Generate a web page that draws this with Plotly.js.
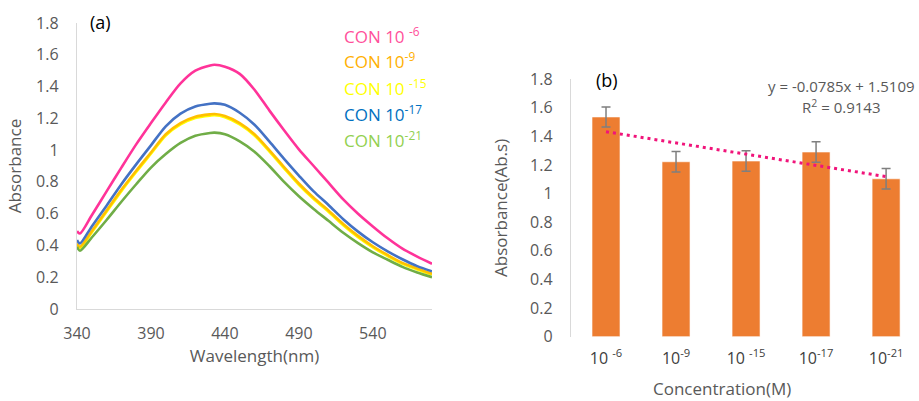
<!DOCTYPE html>
<html>
<head>
<meta charset="utf-8">
<script src="https://cdn.plot.ly/plotly-3.0.1.min.js"></script>
<style>html,body{margin:0;padding:0;background:#fff;}#chart{width:919px;height:401px;}</style>
</head>
<body>
<div id="chart"></div>
<script>
// ---- Panel (a): absorbance spectra ----
const wavelength = [340, 342, 350, 360, 370, 380, 390, 400, 410, 420, 430, 433, 440, 450, 460, 470, 480, 490, 500, 510, 520, 530, 540, 550, 560, 570, 580];
const con6  = [0.49, 0.475, 0.59, 0.74, 0.89, 1.036, 1.17, 1.30, 1.42, 1.50, 1.533, 1.537, 1.525, 1.48, 1.38, 1.25, 1.125, 1.005, 0.90, 0.795, 0.69, 0.60, 0.52, 0.445, 0.38, 0.33, 0.285];
const con9  = [0.413, 0.392, 0.49, 0.62, 0.75, 0.87, 0.985, 1.10, 1.17, 1.21, 1.225, 1.227, 1.215, 1.17, 1.10, 1.0, 0.893, 0.79, 0.70, 0.62, 0.535, 0.46, 0.395, 0.34, 0.29, 0.255, 0.222];
const con15 = [0.405, 0.385, 0.482, 0.612, 0.742, 0.862, 0.977, 1.092, 1.162, 1.202, 1.217, 1.219, 1.207, 1.162, 1.092, 0.992, 0.885, 0.782, 0.692, 0.612, 0.527, 0.452, 0.388, 0.333, 0.284, 0.249, 0.217];
const con17 = [0.434, 0.413, 0.52, 0.65, 0.785, 0.91, 1.03, 1.15, 1.23, 1.275, 1.292, 1.294, 1.285, 1.235, 1.16, 1.055, 0.945, 0.84, 0.74, 0.655, 0.565, 0.487, 0.42, 0.363, 0.313, 0.27, 0.237];
const con21 = [0.392, 0.367, 0.45, 0.56, 0.675, 0.785, 0.89, 0.975, 1.045, 1.09, 1.108, 1.11, 1.10, 1.055, 0.99, 0.90, 0.80, 0.71, 0.63, 0.555, 0.48, 0.415, 0.357, 0.31, 0.265, 0.23, 0.20];
const seriesNames = ["CON 10 <sup>-6</sup>", "CON 10<sup>-9</sup>", "CON 10 <sup>-15</sup>", "CON 10<sup>-17</sup>", "CON 10<sup>-21</sup>"];

// ---- Panel (b): bar chart ----
const concLabels = ["10 <sup>-6</sup>", "10<sup>-9</sup>", "10 <sup>-15</sup>", "10<sup>-17</sup>", "10<sup>-21</sup>"];
const barValues = [1.535, 1.222, 1.227, 1.29, 1.103];
const barErrors = [0.07, 0.072, 0.072, 0.072, 0.071];
const trendValues = [1.432, 1.354, 1.275, 1.197, 1.118];
const trendEquation = "y = -0.0785x + 1.5109";
const trendR2 = "R<sup>2</sup> = 0.9143";

const lineColors = ["#FF3399", "#FFC000", "#FFFF00", "#4472C4", "#70AD47"];
const legendColors = ["#FF4F9A", "#FFB000", "#FFFF00", "#0070C0", "#92D050"];
const seriesData = [con6, con9, con15, con17, con21];
const drawOrder = [0, 2, 1, 3, 4];

const FONT = "Open Sans, Noto Sans, sans-serif";
const GRAY = "#595959";

const traces = [];
drawOrder.forEach(i => {
  traces.push({
    type: "scatter", mode: "lines", x: wavelength, y: seriesData[i],
    name: seriesNames[i], xaxis: "x", yaxis: "y", showlegend: false,
    line: {color: lineColors[i], width: 2.6, shape: "spline", smoothing: 0.8},
    hoverinfo: "x+y"
  });
});
traces.push({
  type: "bar", x: concLabels, y: barValues, xaxis: "x2", yaxis: "y2", showlegend: false,
  width: 0.4,
  marker: {color: "#ED7D31", line: {color: "#FFFFFF", width: 0.6}},
  error_y: {type: "data", array: barErrors, visible: true, color: "#7F7F7F", thickness: 1.5, width: 4.5}
});
traces.push({
  type: "scatter", mode: "lines", x: concLabels, y: trendValues, xaxis: "x2", yaxis: "y2", showlegend: false,
  line: {color: "#F0147A", width: 3, dash: "3px,4px"}
});

const annotations = [];
const legendY = [35, 61, 87, 113, 139];
seriesNames.forEach((n, i) => {
  annotations.push({
    xref: "paper", yref: "paper", x: 342 / 919, y: 1 - legendY[i] / 401,
    xanchor: "left", yanchor: "middle", text: n, showarrow: false,
    font: {family: FONT, size: 17, color: legendColors[i]}
  });
});
annotations.push({xref: "paper", yref: "paper", x: 100 / 919, y: 1 - 22 / 401, xanchor: "center", yanchor: "middle",
  text: "(a)", showarrow: false, font: {family: FONT, size: 18, color: "#000000"}});
annotations.push({xref: "paper", yref: "paper", x: 607 / 919, y: 1 - 80 / 401, xanchor: "center", yanchor: "middle",
  text: "(b)", showarrow: false, font: {family: FONT, size: 18, color: "#000000"}});
annotations.push({xref: "paper", yref: "paper", x: 841 / 919, y: 1 - 86 / 401, xanchor: "center", yanchor: "middle",
  text: trendEquation, showarrow: false, font: {family: FONT, size: 15, color: GRAY}});
annotations.push({xref: "paper", yref: "paper", x: 841 / 919, y: 1 - 107 / 401, xanchor: "center", yanchor: "middle",
  text: trendR2, showarrow: false, font: {family: FONT, size: 15, color: GRAY}});
annotations.push({xref: "paper", yref: "paper", x: 722 / 919, y: 1 - 388 / 401, xanchor: "center", yanchor: "middle",
  text: "Concentration(M)", showarrow: false, font: {family: FONT, size: 17, color: GRAY}});

const layout = {
  width: 919, height: 401,
  margin: {l: 0, r: 0, t: 0, b: 0},
  paper_bgcolor: "#FFFFFF", plot_bgcolor: "rgba(0,0,0,0)",
  font: {family: FONT, color: GRAY},
  showlegend: false,
  bargap: 0.6,
  xaxis: {
    domain: [77 / 919, 432 / 919], range: [340, 580], anchor: "y",
    tickvals: [340, 390, 440, 490, 540], ticks: "", showgrid: false, zeroline: false,
    showline: true, linecolor: "#D9D9D9", linewidth: 1.2,
    tickfont: {family: FONT, size: 16, color: GRAY}, ticklabelstandoff: 10,
    title: {text: "Wavelength(nm)", font: {family: FONT, size: 17, color: GRAY}, standoff: 4},
    automargin: false
  },
  yaxis: {
    domain: [1 - 309 / 401, 1 - 23 / 401], range: [0, 1.8], anchor: "x",
    dtick: 0.2, tick0: 0, ticks: "", showgrid: false, zeroline: false,
    showline: true, linecolor: "#D9D9D9", linewidth: 1.2,
    tickfont: {family: FONT, size: 16, color: GRAY}, ticklabelstandoff: 14,
    title: {text: "Absorbance", font: {family: FONT, size: 17, color: GRAY}, standoff: 10},
    automargin: false
  },
  xaxis2: {
    domain: [571 / 919, 1], range: [-0.5, 4.47], anchor: "y2", type: "category",
    ticks: "", showgrid: false, zeroline: false, showline: false,
    tickfont: {family: FONT, size: 16, color: "#404040"}, ticklabelstandoff: 10,
    automargin: false
  },
  yaxis2: {
    domain: [1 - 336.7 / 401, 1 - 79 / 401], range: [0, 1.8], anchor: "x2",
    dtick: 0.2, tick0: 0, ticks: "", showgrid: false, zeroline: false,
    showline: true, linecolor: "#D9D9D9", linewidth: 1.2,
    tickfont: {family: FONT, size: 16, color: GRAY}, ticklabelstandoff: 14,
    title: {text: "Absorbance(Ab.s)", font: {family: FONT, size: 17, color: GRAY}, standoff: 18},
    automargin: false
  },
  annotations: annotations
};

Plotly.newPlot("chart", traces, layout, {displayModeBar: false, staticPlot: true});
</script>
</body>
</html>
